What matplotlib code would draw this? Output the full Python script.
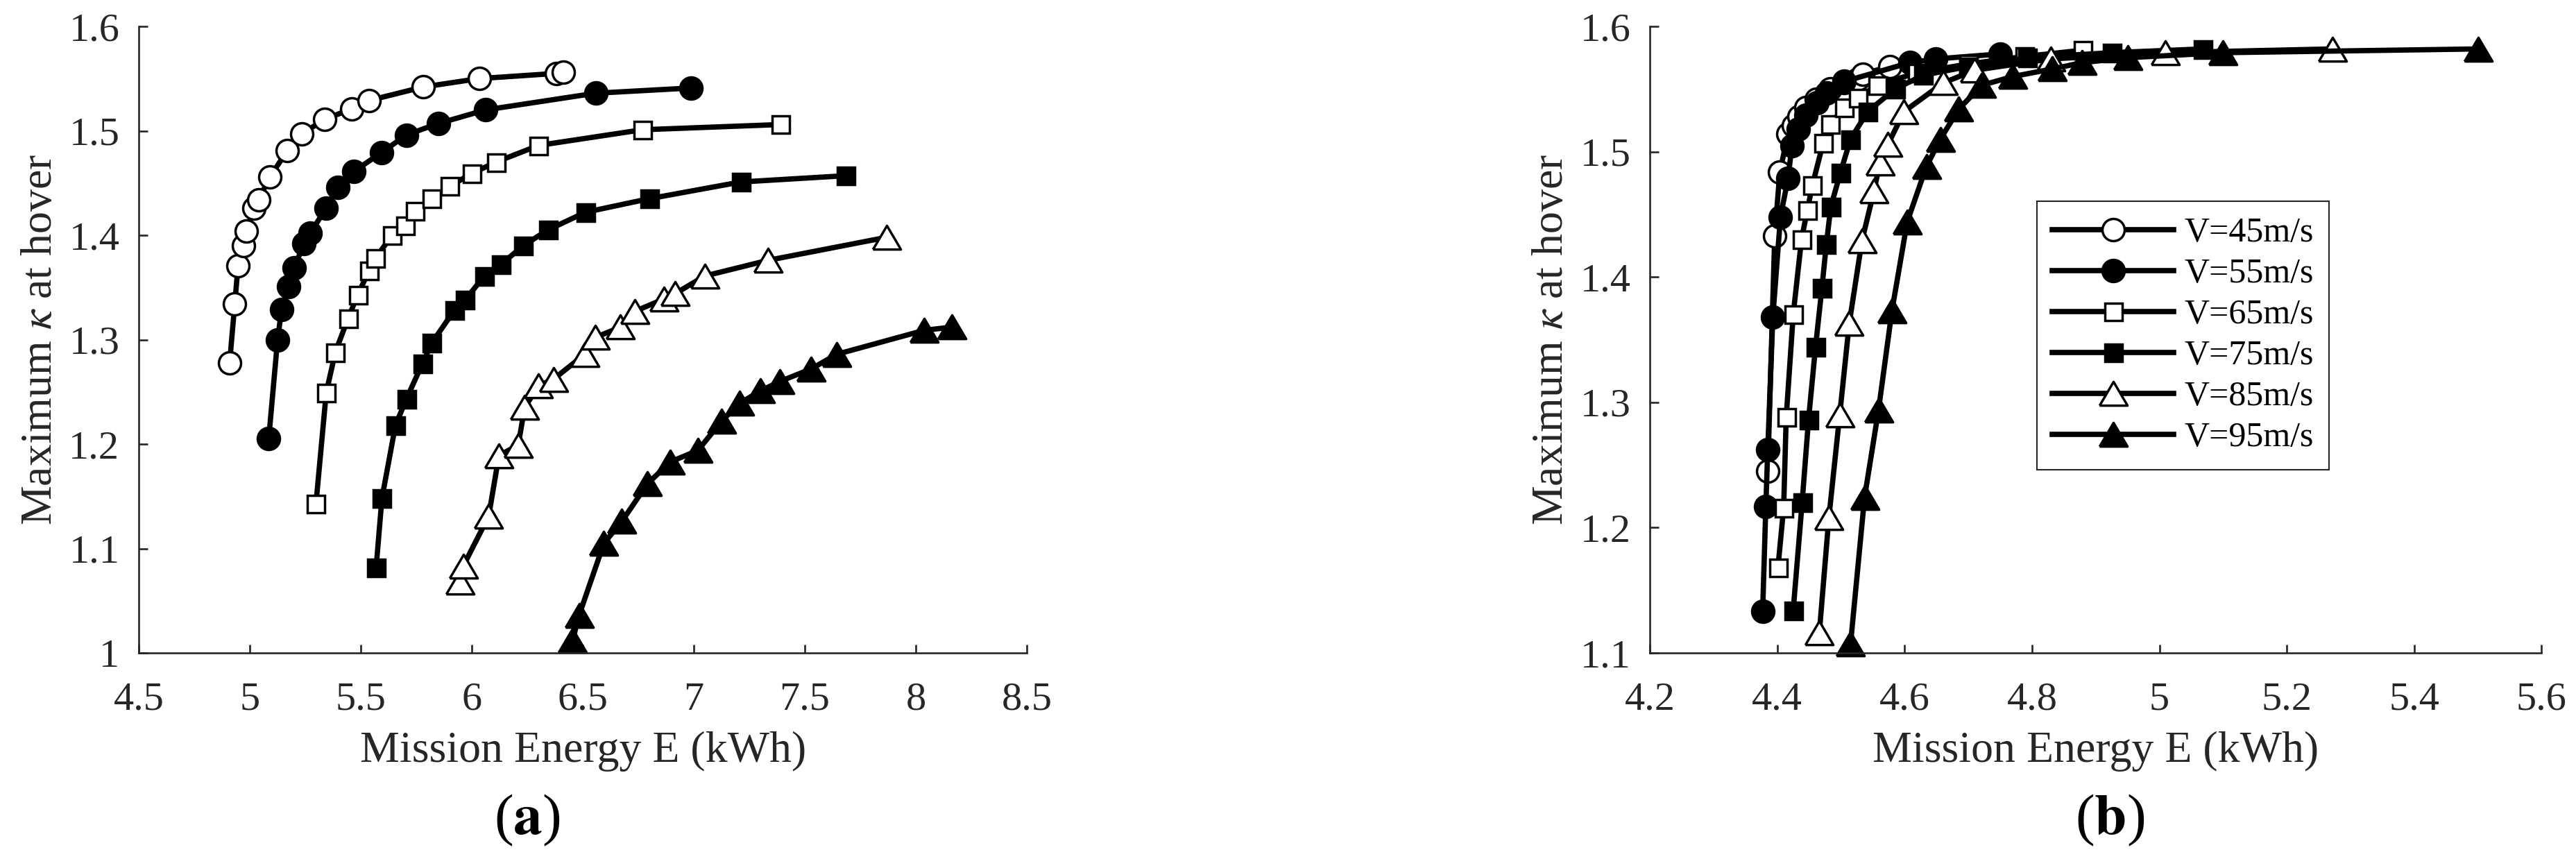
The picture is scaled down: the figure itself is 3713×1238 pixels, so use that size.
import numpy as np
import matplotlib
matplotlib.use("Agg")
import matplotlib.pyplot as plt
from matplotlib.ticker import FuncFormatter

plt.rcParams['font.family'] = ['Liberation Serif', 'DejaVu Serif']
plt.rcParams['mathtext.fontset'] = 'stix'

# ---- data ----
labels = ["V=45m/s", "V=55m/s", "V=65m/s", "V=75m/s", "V=85m/s", "V=95m/s"]

# panel (a)
a45_x = [4.909, 4.932, 4.947, 4.970, 4.984, 5.019, 5.039, 5.091, 5.169, 5.235, 5.336, 5.460, 5.537, 5.782, 6.033, 6.382, 6.411]
a45_y = [1.278, 1.334, 1.371, 1.390, 1.404, 1.426, 1.434, 1.456, 1.481, 1.497, 1.511, 1.521, 1.529, 1.542, 1.550, 1.555, 1.556]
a55_x = [5.085, 5.125, 5.143, 5.174, 5.200, 5.244, 5.272, 5.344, 5.396, 5.468, 5.592, 5.705, 5.849, 6.062, 6.558, 6.987]
a55_y = [1.205, 1.300, 1.329, 1.351, 1.369, 1.392, 1.402, 1.426, 1.446, 1.461, 1.479, 1.496, 1.507, 1.520, 1.536, 1.541]
a65_x = [5.298, 5.344, 5.385, 5.442, 5.486, 5.537, 5.566, 5.641, 5.699, 5.745, 5.820, 5.901, 5.999, 6.108, 6.301, 6.768, 7.390]
a65_y = [1.143, 1.249, 1.288, 1.320, 1.343, 1.366, 1.378, 1.400, 1.409, 1.423, 1.435, 1.447, 1.459, 1.470, 1.486, 1.501, 1.506]
a75_x = [5.569, 5.595, 5.656, 5.705, 5.777, 5.820, 5.921, 5.970, 6.056, 6.131, 6.232, 6.342, 6.512, 6.800, 7.212, 7.684]
a75_y = [1.082, 1.148, 1.218, 1.243, 1.277, 1.297, 1.328, 1.338, 1.361, 1.372, 1.390, 1.405, 1.422, 1.435, 1.451, 1.457]
a85_x = [5.947, 5.961, 6.076, 6.122, 6.209, 6.238, 6.301, 6.367, 6.509, 6.555, 6.670, 6.733, 6.866, 6.915, 7.050, 7.335, 7.869]
a85_y = [1.068, 1.083, 1.131, 1.189, 1.199, 1.235, 1.256, 1.262, 1.286, 1.302, 1.312, 1.327, 1.339, 1.344, 1.361, 1.376, 1.398]
a95_x = [6.454, 6.483, 6.595, 6.676, 6.791, 6.895, 7.019, 7.125, 7.206, 7.301, 7.388, 7.529, 7.644, 8.039, 8.163]
a95_y = [1.012, 1.036, 1.105, 1.126, 1.162, 1.183, 1.194, 1.222, 1.239, 1.251, 1.260, 1.272, 1.286, 1.309, 1.312]

# panel (b)
b45_x = [4.385, 4.396, 4.404, 4.417, 4.425, 4.434, 4.445, 4.461, 4.483, 4.505, 4.527, 4.534, 4.577]
b45_y = [1.245, 1.433, 1.484, 1.514, 1.521, 1.528, 1.535, 1.542, 1.550, 1.555, 1.558, 1.562, 1.568]
b55_x = [4.377, 4.382, 4.385, 4.393, 4.405, 4.417, 4.423, 4.433, 4.445, 4.462, 4.478, 4.505, 4.608, 4.649, 4.750]
b55_y = [1.133, 1.217, 1.262, 1.368, 1.448, 1.479, 1.505, 1.518, 1.529, 1.539, 1.547, 1.556, 1.571, 1.574, 1.578]
b65_x = [4.401, 4.410, 4.414, 4.425, 4.438, 4.447, 4.455, 4.472, 4.483, 4.505, 4.527, 4.557, 4.619, 4.700, 4.788, 4.880]
b65_y = [1.168, 1.216, 1.288, 1.370, 1.430, 1.453, 1.473, 1.507, 1.522, 1.535, 1.543, 1.553, 1.563, 1.570, 1.576, 1.581]
b75_x = [4.425, 4.439, 4.449, 4.460, 4.470, 4.477, 4.484, 4.499, 4.515, 4.542, 4.585, 4.629, 4.700, 4.793, 4.925, 5.068]
b75_y = [1.134, 1.220, 1.286, 1.344, 1.391, 1.426, 1.456, 1.483, 1.510, 1.532, 1.550, 1.561, 1.568, 1.575, 1.579, 1.582]
b85_x = [4.466, 4.481, 4.498, 4.513, 4.533, 4.552, 4.561, 4.574, 4.599, 4.661, 4.710, 4.829, 5.009, 5.272]
b85_y = [1.116, 1.208, 1.290, 1.363, 1.429, 1.469, 1.491, 1.506, 1.532, 1.555, 1.565, 1.574, 1.579, 1.582]
b95_x = [4.515, 4.537, 4.559, 4.580, 4.604, 4.634, 4.656, 4.685, 4.721, 4.770, 4.832, 4.878, 4.950, 5.100, 5.501]
b95_y = [1.107, 1.224, 1.294, 1.373, 1.444, 1.488, 1.510, 1.534, 1.553, 1.560, 1.566, 1.571, 1.575, 1.579, 1.582]

series_a = [(a45_x, a45_y), (a55_x, a55_y), (a65_x, a65_y), (a75_x, a75_y), (a85_x, a85_y), (a95_x, a95_y)]
series_b = [(b45_x, b45_y), (b55_x, b55_y), (b65_x, b65_y), (b75_x, b75_y), (b85_x, b85_y), (b95_x, b95_y)]

# matlab-ish triangle (wider than tall)
tri = [(-1, -0.85), (1, -0.85), (0, 0.85), (-1, -0.85)]
styles = [
    dict(marker='o', mfc='white', ms=23),
    dict(marker='o', mfc='black', ms=23),
    dict(marker='s', mfc='white', ms=18),
    dict(marker='s', mfc='black', ms=18),
    dict(marker=tri, mfc='white', ms=29),
    dict(marker=tri, mfc='black', ms=29),
]

axcol = '#262626'
fig = plt.figure(figsize=(37.13, 12.38), dpi=100)
ax_a = fig.add_axes([0.0539, 0.2399, 0.3447, 0.7294])
ax_b = fig.add_axes([0.6405, 0.2399, 0.3461, 0.7294])


def fmt(v, pos):
    return '%g' % round(v, 3)


def style_axes(ax, xlim, ylim, xticks, yticks):
    ax.set_xlim(xlim)
    ax.set_ylim(ylim)
    ax.set_xticks(xticks)
    ax.set_yticks(yticks)
    ax.xaxis.set_major_formatter(FuncFormatter(fmt))
    ax.yaxis.set_major_formatter(FuncFormatter(fmt))
    for s in ['top', 'right']:
        ax.spines[s].set_visible(False)
    for s in ['left', 'bottom']:
        ax.spines[s].set_linewidth(1.9)
        ax.spines[s].set_color(axcol)
    ax.tick_params(direction='in', length=9, width=1.9, color=axcol,
                   labelsize=42, labelcolor=axcol, pad=20)
    ax.tick_params(axis='x', pad=30)
    ax.set_xlabel('Mission Energy E (kWh)', fontsize=46, color=axcol, labelpad=14)
    ax.set_ylabel(r'Maximum $\kappa$ at hover', fontsize=46, color=axcol, labelpad=8)


for ax, series in [(ax_a, series_a), (ax_b, series_b)]:
    for (xs, ys), st, lab in zip(series, styles, labels):
        ax.plot(xs, ys, color='black', lw=5.5, mec='black', mew=2.5,
                clip_on=False, label=lab, **st)

style_axes(ax_a, (4.5, 8.5), (1.0, 1.6), np.arange(4.5, 8.51, 0.5), np.arange(1.0, 1.61, 0.1))
style_axes(ax_b, (4.2, 5.6), (1.1, 1.6), np.arange(4.2, 5.61, 0.2), np.arange(1.1, 1.61, 0.1))

leg = ax_b.legend(loc='upper left', bbox_to_anchor=(0.434, 0.7206), borderaxespad=0,
                  fontsize=36, handlelength=3.5, handletextpad=0.3, labelspacing=0.25,
                  borderpad=0.45, fancybox=False, framealpha=1)
leg.get_frame().set_edgecolor(axcol)
leg.get_frame().set_linewidth(1.5)

fig.text(0.2047, 0.045, r'($\mathbf{a}$)', fontsize=60, ha='center', va='center')
fig.text(0.8190, 0.045, r'($\mathbf{b}$)', fontsize=60, ha='center', va='center')

fig.savefig('out.png', dpi=100)
